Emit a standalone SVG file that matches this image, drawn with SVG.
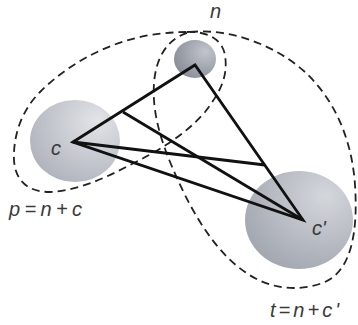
<svg xmlns="http://www.w3.org/2000/svg" width="358" height="325" viewBox="0 0 358 325">
<defs>
<radialGradient id="gc" cx="0.7" cy="0.3" r="0.9" fx="0.75" fy="0.25">
<stop offset="0" stop-color="#e2e4e8"/>
<stop offset="1" stop-color="#a9adb6"/>
</radialGradient>
<radialGradient id="gn" cx="0.7" cy="0.35" r="0.9" fx="0.75" fy="0.3">
<stop offset="0" stop-color="#c2c5cc"/>
<stop offset="1" stop-color="#7e838e"/>
</radialGradient>
<radialGradient id="gt" cx="0.7" cy="0.3" r="0.9" fx="0.75" fy="0.25">
<stop offset="0" stop-color="#d4d7dc"/>
<stop offset="1" stop-color="#9ca0aa"/>
</radialGradient>
</defs>
<style>
.dash{fill:none;stroke:#222;stroke-width:1.8;stroke-dasharray:8 5}
.edge{fill:none;stroke:#111;stroke-width:2.8;stroke-linejoin:miter}
.lbl{font-family:"Liberation Sans",Arial,sans-serif;font-style:italic;font-size:20px;fill:#3a3a3a}
</style>
<g id="node-c"><ellipse cx="75" cy="141" rx="45" ry="41" fill="url(#gc)"/><text class="lbl" x="51" y="155">c</text></g>
<g id="node-n"><ellipse cx="195" cy="59" rx="21" ry="19" fill="url(#gn)"/><text class="lbl" x="210" y="18">n</text></g>
<g id="node-c2"><ellipse cx="299" cy="220" rx="54" ry="49" fill="url(#gt)"/><text class="lbl" x="312" y="235">c'</text></g>
<g id="group-p"><path class="dash" d="M187,32 C205,31 222,38 225,55 C228,75 222,90 205,112 C185,135 160,150 130,165 C105,178 80,190 50,192 C25,192 15,178 14,160 C13,135 22,110 40,92 C70,62 110,42 150,35 C165,33 177,32 187,32 Z"/><text class="lbl" x="9" y="216" textLength="73" lengthAdjust="spacing">p=n+c</text></g>
<g id="group-t"><path class="dash" d="M190,32 C230,28 275,45 305,72 C335,100 352,140 355,185 C358,230 352,270 325,282 C300,292 270,290 245,272 C220,255 200,225 185,195 C168,160 156,130 154,100 C152,70 160,40 190,32 Z"/><text class="lbl" x="270" y="317" textLength="69" lengthAdjust="spacing">t=n+c'</text></g>
<g id="connectors">
<path class="edge" d="M73,142 L195,65 L303,220 Z"/>
<path class="edge" d="M123,112 L303,220"/>
<path class="edge" d="M73,142 L265,165"/>
</g>
</svg>
